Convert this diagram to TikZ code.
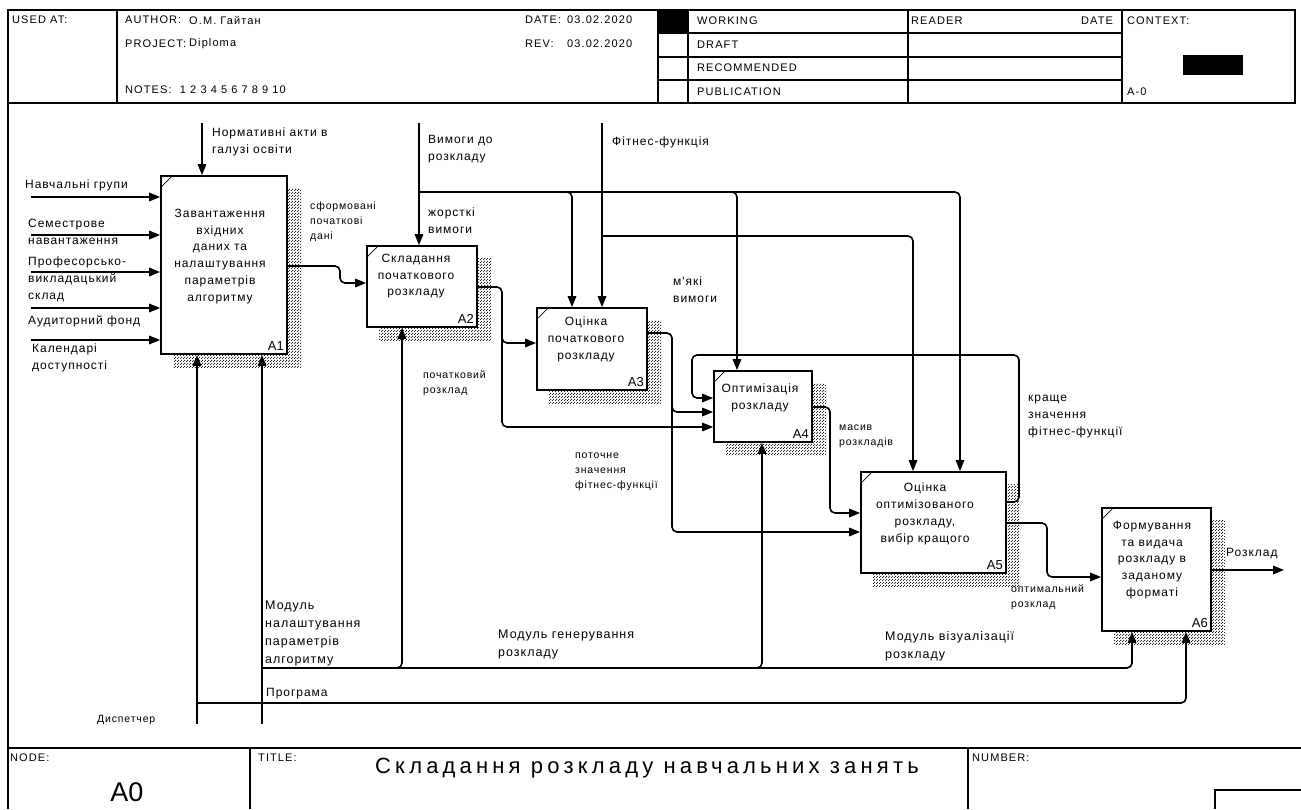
\documentclass[tikz,border=0pt]{standalone}
\usepackage{fontspec}
\setmainfont{Liberation Sans}
\newfontfamily\hdrfont[LetterSpace=10]{Liberation Sans}
\newfontfamily\lblfont[LetterSpace=8]{Liberation Sans}
\newfontfamily\ttlfont[LetterSpace=19]{Liberation Sans}
\usetikzlibrary{arrows.meta,patterns}
\pgfdeclarepatternformonly{idefshade}{\pgfqpoint{0pt}{0pt}}{\pgfqpoint{3pt}{3pt}}{\pgfqpoint{3pt}{3pt}}{%
  \pgfpathrectangle{\pgfqpoint{0pt}{0pt}}{\pgfqpoint{1.2pt}{1.2pt}}%
  \pgfpathrectangle{\pgfqpoint{1.5pt}{1.5pt}}{\pgfqpoint{1.2pt}{1.2pt}}%
  \pgfusepath{fill}%
}
\newcommand\pbox[5]{%
  \fill[shadowbox] ({#2+12},{#3+12}) rectangle ({#4+14},{#5+13});
  \node[proc, minimum width={#4-#2}, minimum height={#5-#3}] (#1) at ({(#2+#4)/2},{(#3+#5)/2}) {};
  \draw[line width=0.7pt] (#2,{#3+11}) -- ({#2+11},#3);
  \node[bid] at ({#4-3},{#5-3}) {#1};
}
\begin{document}
\begin{tikzpicture}[x=1pt,y=-1pt,
  frame/.style={line width=1.4pt},
  proc/.style={draw,line width=1.7pt,fill=white,inner sep=0,rectangle},
  shadowbox/.style={pattern=idefshade,pattern color=black!85},
  arr/.style={line width=1.6pt,-{Triangle[length=11pt,width=8.5pt]},rounded corners=5pt},
  hdr/.style={font=\hdrfont\fontsize{11}{12}\selectfont,inner sep=0,anchor=west},
  lbl/.style={font=\lblfont\fontsize{12}{17}\selectfont,inner sep=0,anchor=north west,align=left},
  mlbl/.style={font=\lblfont\fontsize{12.5}{18}\selectfont,inner sep=0,anchor=north west,align=left},
  slbl/.style={font=\lblfont\fontsize{10.5}{15}\selectfont,inner sep=0,anchor=north west,align=left},
  btxt/.style={font=\lblfont\fontsize{12}{16.7}\selectfont,inner sep=0,anchor=north,align=center},
  bid/.style={font=\fontsize{13}{14}\selectfont,inner sep=0,anchor=south east},
]
\useasboundingbox (0,0) rectangle (1301,809);
\fill[white] (0,0) rectangle (1301,809);

% ---------- frame / header ----------
\draw[frame] (8,10) rectangle (1295,103);
\draw[frame] (8,103) -- (8,809);
\foreach \xx in {117,658,688,908,1122} \draw[frame] (\xx,10) -- (\xx,103);
\foreach \yy in {33,57,80} \draw[frame] (658,\yy) -- (1122,\yy);
\fill (658,10) rectangle (688,33);
\fill (1183,55) rectangle (1243,75);

\node[hdr] (hUsed) at (12,20) {USED AT:};
\node[hdr] (hAuth) at (125,20) {AUTHOR:};
\node[hdr] (hAuthV) at (189,20) {О.М. Гайтан};
\node[hdr] (hProj) at (125,44) {PROJECT:};
\node[hdr] (hProjV) at (189,44) {Diploma};
\node[hdr] (hNotes) at (125,90) {NOTES:\ \ 1 2 3 4 5 6 7 8 9 10};
\node[hdr] (hDate) at (525,20) {DATE:};
\node[hdr] (hDateV) at (567,20) {03.02.2020};
\node[hdr] (hRev) at (525,44) {REV:};
\node[hdr] (hRevV) at (567,44) {03.02.2020};
\node[hdr] (hW) at (697,21) {WORKING};
\node[hdr] (hD) at (697,45) {DRAFT};
\node[hdr] (hR) at (697,68) {RECOMMENDED};
\node[hdr] (hP) at (697,92) {PUBLICATION};
\node[hdr] (hRd) at (911,21) {READER};
\node[hdr] (hDt) at (1081,21) {DATE};
\node[hdr] (hCtx) at (1127,21) {CONTEXT:};
\node[hdr] (hA0) at (1127,92) {A-0};

% ---------- footer ----------
\draw[frame] (8,748) -- (1301,748);
\draw[frame] (250,748) -- (250,809);
\draw[frame] (968,748) -- (968,809);
\draw[frame] (1215,809) -- (1215,790) -- (1301,790);
\node[hdr] (fNode) at (10,758) {NODE:};
\node[hdr] (fTitle) at (258,758) {TITLE:};
\node[hdr] (fNum) at (972,758) {NUMBER:};
\node[font=\fontsize{27}{30}\selectfont,inner sep=0] (fA0) at (127,792) {A0};
\node[font=\ttlfont\fontsize{22}{25}\selectfont,inner sep=0] (fT) at (647,768) {Складання розкладу навчальних занять};

% ---------- activity boxes ----------
\pbox{A1}{161}{176}{287}{354}
\pbox{A2}{367}{246}{477}{327}
\pbox{A3}{537}{308}{647}{390}
\pbox{A4}{714}{371}{812}{442}
\pbox{A5}{861}{472}{1006}{573}
\pbox{A6}{1102}{508}{1211}{631}

\node[btxt] (t1) at (220,209) {Завантаження\\вхідних\\даних та\\налаштування\\параметрів\\алгоритму};
\node[btxt] (t2) at (416,254) {Складання\\початкового\\розкладу};
\node[btxt] (t3) at (586,317) {Оцінка\\початкового\\розкладу};
\node[btxt] (t4) at (760,384) {Оптимізація\\розкладу};
\node[btxt] (t5) at (925,483) {Оцінка\\оптимізованого\\розкладу,\\вибір кращого};
\node[btxt] (t6) at (1152,521) {Формування\\та видача\\розкладу в\\заданому\\форматі};

% ---------- inputs to A1 ----------
\foreach \yy/\nm in {197/i1,235/i2,272/i3,308/i4,340/i5}{
  \coordinate (\nm) at (31,\yy);
  \draw[arr] (\nm) -- (A1.west |- \nm);
}
% control of A1
\coordinate (c1) at (202,123);
\draw[arr] (c1) -- (c1 |- A1.north);
% mechanisms of A1
\coordinate (m1) at (197,724);
\coordinate (m2) at (262,724);
\draw[arr] (m1) -- (m1 |- A1.south);
\draw[arr] (m2) -- (m2 |- A1.south);
% Програма -> A6
\coordinate (jP) at (197,703);
\coordinate (xP) at (1186,0);
\draw[arr] (jP) -| (A6.south -| xP);
% modules line
\coordinate (jM) at (262,668);
\coordinate (xV) at (1132,0);
\draw[arr] (jM) -| (A6.south -| xV);
\coordinate (b2) at (392,668);
\coordinate (x2) at (402,0);
\draw[arr] (b2) -| (A2.south -| x2);
\coordinate (b4) at (752,668);
\coordinate (x4) at (762,0);
\draw[arr] (b4) -| (A4.south -| x4);

% ---------- controls ----------
\coordinate (c2) at (419,123);
\draw[arr] (c2) -- (c2 |- A2.north);
\coordinate (j2) at (419,192);
\coordinate (x5a) at (960,0);
\draw[arr] (j2) -| (A5.north -| x5a);
\coordinate (j3) at (562,192);
\coordinate (x3a) at (572,0);
\draw[arr] (j3) -| (A3.north -| x3a);
\coordinate (j4) at (727,192);
\coordinate (x4c) at (737,0);
\draw[arr] (j4) -| (A4.north -| x4c);
\coordinate (c3) at (602,123);
\draw[arr] (c3) -- (c3 |- A3.north);
\coordinate (j5) at (602,236);
\coordinate (x5b) at (913,0);
\draw[arr] (j5) -| (A5.north -| x5b);

% ---------- outputs ----------
\draw[arr] (A1.east |- 0,266) -| (340,283) -- (A2.west |- 0,283);
\draw[arr] (A2.east |- 0,287) -| (502,343) -- (A3.west |- 0,343);
\draw[arr] (502,320) |- (A4.west |- 0,427);
\draw[arr] (A3.east |- 0,333) -| (672,412) -- (A4.west |- 0,412);
\draw[arr] (672,400) |- (A5.west |- 0,532);
\draw[arr] (A4.east |- 0,407) -| (830,513) -- (A5.west |- 0,513);
\draw[arr] (A5.east |- 0,502) -| (1019,355) -| (692,398) -- (A4.west |- 0,398);
\draw[arr] (A5.east |- 0,523) -| (1047,577) -- (A6.west |- 0,577);
\coordinate (out) at (1284,570);
\draw[arr] (A6.east |- out) -- (out);

% ---------- labels ----------
\node[lbl] (lNorm) at (212,128) {Нормативні акти в\\галузі освіти};
\node[lbl] (lGr) at (25,180) {Навчальні групи};
\node[lbl] (lSem) at (28,219) {Семестрове\\навантаження};
\node[lbl] (lProf) at (28,257) {Професорсько-\\викладацький\\склад};
\node[lbl] (lAud) at (28,315) {Аудиторний фонд};
\node[lbl] (lCal) at (32,344) {Календарі\\доступності};
\node[lbl] (lVym) at (428,135) {Вимоги до\\розкладу};
\node[lbl] (lFit) at (612,137) {Фітнес-функція};
\node[lbl] (lZh) at (428,208) {жорсткі\\вимоги};
\node[lbl] (lMk) at (673,277) {м'які\\вимоги};
\node[lbl] (lKr) at (1028,395) {краще\\значення\\фітнес-функції};
\node[lbl] (lRz) at (1226,548) {Розклад};
\node[mlbl] (lGen) at (498,630) {Модуль генерування\\розкладу};
\node[mlbl] (lViz) at (885,631) {Модуль візуалізації\\розкладу};
\node[lbl] (lProg) at (266,688) {Програма};
\node[slbl] (lSf) at (310,202) {сформовані\\початкові\\дані};
\node[slbl] (lPr) at (423,370) {початковий\\розклад};
\node[slbl] (lPt) at (575,453) {поточне\\значення\\фітнес-функції};
\node[slbl] (lMs) at (839,425) {масив\\розкладів};
\node[slbl] (lOpt) at (1011,584) {оптимальний\\розклад};
\node[mlbl] (lMod) at (265,601) {Модуль\\налаштування\\параметрів\\алгоритму};
\node[slbl] (lDisp) at (97,715) {Диспетчер};
\end{tikzpicture}
\end{document}
